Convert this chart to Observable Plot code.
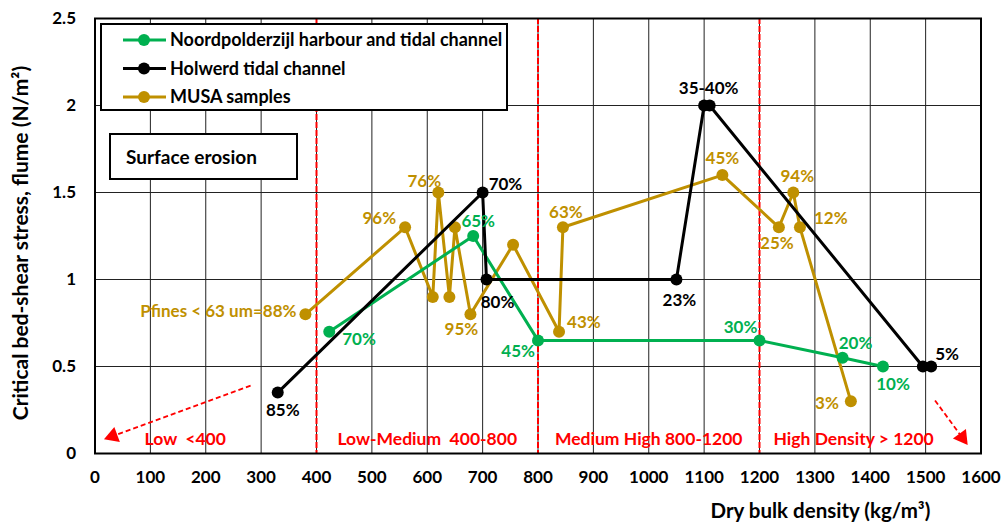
<!DOCTYPE html>
<html><head><meta charset="utf-8">
<script src="https://cdn.jsdelivr.net/npm/d3@7"></script>
<script src="https://cdn.jsdelivr.net/npm/@observablehq/plot@0.6"></script>
<style>body{margin:0;background:#fff;}</style>
</head><body><div id="chart"></div>
<script>
// ---------- data ----------
const seriesNames = ["Noordpolderzijl harbour and tidal channel", "Holwerd tidal channel", "MUSA samples"];
const seriesColors = ["#00B050", "#000000", "#BF9000"];

const noordX = [423, 683, 800, 1200, 1350, 1423];
const noordY = [0.70, 1.25, 0.65, 0.65, 0.55, 0.50];
const noordLabels = ["70%", "65%", "45%", "30%", "20%", "10%"];

const holwerdX = [330, 700, 707, 1050, 1100, 1110, 1495, 1510];
const holwerdY = [0.35, 1.50, 1.00, 1.00, 2.00, 2.00, 0.50, 0.50];
const holwerdLabels = ["85%", "70%", "80%", "23%", "", "35-40%", "", "5%"];

const musaX = [380, 560, 610, 620, 640, 650, 678, 755, 838, 845, 1133, 1235, 1261, 1273, 1365];
const musaY = [0.80, 1.30, 0.90, 1.50, 0.90, 1.30, 0.80, 1.20, 0.70, 1.30, 1.60, 1.30, 1.50, 1.30, 0.30];
const musaLabels = ["Pfines < 63 um=88%", "96%", "", "76%", "", "", "95%", "", "43%", "63%", "45%", "25%", "94%", "12%", "3%"];

const zoneBounds = [400, 800, 1200];
const zoneNames = ["Low  <400", "Low-Medium  400-800", "Medium High 800-1200", "High Density > 1200"];

const xTicks = [0, 100, 200, 300, 400, 500, 600, 700, 800, 900, 1000, 1100, 1200, 1300, 1400, 1500, 1600];
const yTicks = [0, 0.5, 1, 1.5, 2, 2.5];

const xTitle = "Dry bulk density (kg/m³)";
const yTitle = "Critical bed-shear stress, flume (N/m²)";
const boxNote = "Surface erosion";

// ---------- layout (annotation placement) ----------
const noordPlace = [[13,8,"start"],[5,-14,"middle"],[-3,11,"end"],[-19,-13,"middle"],[13,-14,"middle"],[10,18,"middle"]];
const holwerdPlace = [[5,18,"middle"],[6,-8,"start"],[11,23,"middle"],[3,21,"middle"],null,[-1,-17,"middle"],null,[4,-12,"start"]];
const musaPlace = [[-9,-3,"end"],[-9,-9,"end"],null,[-14,-11,"middle"],null,null,[-9,15,"middle"],null,[8,-9,"start"],[3,-15,"middle"],[0,-17,"middle"],[-2,16,"middle"],[4,-16,"middle"],[14,-9,"start"],[-12,2,"end"]];
const zoneLabelX = [163, 600, 1000, 1370];
const zoneLabelY = 0.08;
const arrowsLayout = [{x1: 281, y1: 0.39, x2: 32, y2: 0.10}, {x1: 1517, y1: 0.305, x2: 1566, y2: 0.092}];

const W = 1002, H = 528, mL = 94.5, mR = 21.5, mT = 18, mB = 75;
const FONT = "Lato, 'Open Sans', sans-serif";

const series = [
  {x: musaX, y: musaY, labels: musaLabels, place: musaPlace, color: seriesColors[2]},
  {x: noordX, y: noordY, labels: noordLabels, place: noordPlace, color: seriesColors[0]},
  {x: holwerdX, y: holwerdY, labels: holwerdLabels, place: holwerdPlace, color: seriesColors[1]}
];

const marks = [
  Plot.gridX(xTicks, {stroke: "#222", strokeOpacity: 1, strokeWidth: 1}),
  Plot.gridY(yTicks, {stroke: "#222", strokeOpacity: 1, strokeWidth: 1}),
  Plot.ruleX(zoneBounds, {stroke: "#FF0000", strokeWidth: 2, strokeDasharray: "6,2"}),
  Plot.frame({stroke: "#000", strokeWidth: 2}),
  Plot.axisX(xTicks, {tickSize: 0, tickPadding: 17, fontSize: 17, fontWeight: "bold", tickFormat: d => `${d}`, label: null}),
  Plot.axisY(yTicks, {tickSize: 0, tickPadding: 19, fontSize: 17, fontWeight: "bold", tickFormat: d => `${d}`, label: null}),
  Plot.text([xTitle], {x: 1310, frameAnchor: "bottom", dy: 64, fontSize: 20.5, fontWeight: "bold", fill: "#000", textAnchor: "middle"}),
  Plot.text([yTitle], {frameAnchor: "left", dx: -74, dy: 7, rotate: -90, fontSize: 21, fontWeight: "bold", fill: "#000", textAnchor: "middle"}),
  Plot.text(zoneNames, {x: (d, i) => zoneLabelX[i], y: () => zoneLabelY, fill: "#FF0000", fontSize: 17.5, fontWeight: "bold"})
];

// dashed arrows
const pxX = (W - mL - mR) / 1600, pxY = (H - mT - mB) / 2.5;
arrowsLayout.forEach(a => {
  const ang = Math.atan2(-(a.y2 - a.y1) * pxY, (a.x2 - a.x1) * pxX) * 180 / Math.PI;
  marks.push(Plot.link([a], {x1: "x1", y1: "y1", x2: "x2", y2: "y2", stroke: "#FF0000", strokeWidth: 1.8, strokeDasharray: "5,3"}));
  marks.push(Plot.dot([a], {x: "x2", y: "y2", symbol: "triangle", r: 6, fill: "#FF0000", stroke: "none", rotate: ang + 90}));
});

series.forEach(s => {
  const pts = s.x.map((x, i) => ({x, y: s.y[i]}));
  marks.push(Plot.line(pts, {x: "x", y: "y", stroke: s.color, strokeWidth: 3}));
  marks.push(Plot.dot(pts, {x: "x", y: "y", r: 6, fill: s.color, stroke: "none"}));
});
series.forEach(s => {
  s.x.forEach((x, i) => {
    const p = s.place[i];
    if (!p || !s.labels[i]) return;
    marks.push(Plot.text([{x, y: s.y[i], t: s.labels[i]}], {x: "x", y: "y", text: "t", dx: p[0], dy: p[1], textAnchor: p[2], fill: s.color, fontSize: 17, fontWeight: "bold"}));
  });
});

const chart = Plot.plot({
  width: W, height: H,
  marginLeft: mL, marginRight: mR, marginTop: mT, marginBottom: mB,
  x: {domain: [0, 1600]},
  y: {domain: [0, 2.5]},
  style: {fontFamily: FONT, color: "#000", background: "#fff", overflow: "visible"},
  marks
});

// legend and note box
const svg = d3.select(chart);
const lg = svg.append("g").attr("font-family", FONT).attr("font-weight", "bold").attr("text-anchor", "start");
lg.append("rect").attr("x", 101).attr("y", 24).attr("width", 406).attr("height", 86).attr("fill", "#fff").attr("stroke", "#000").attr("stroke-width", 2);
seriesNames.forEach((name, i) => {
  const yy = 40 + 28.5 * i;
  lg.append("line").attr("x1", 123).attr("x2", 166).attr("y1", yy).attr("y2", yy).attr("stroke", seriesColors[i]).attr("stroke-width", 3);
  lg.append("circle").attr("cx", 144).attr("cy", yy).attr("r", 6).attr("fill", seriesColors[i]);
  lg.append("text").attr("x", 170).attr("y", yy).attr("dy", "0.36em").attr("font-size", 18).attr("fill", "#000").attr("text-anchor", "start").text(name);
});
lg.append("rect").attr("x", 110).attr("y", 134).attr("width", 187).attr("height", 45).attr("fill", "#fff").attr("stroke", "#000").attr("stroke-width", 2);
lg.append("text").attr("x", 126).attr("y", 157).attr("dy", "0.36em").attr("font-size", 19).attr("fill", "#000").attr("text-anchor", "start").text(boxNote);

document.getElementById("chart").appendChild(chart);
</script>
</body></html>
